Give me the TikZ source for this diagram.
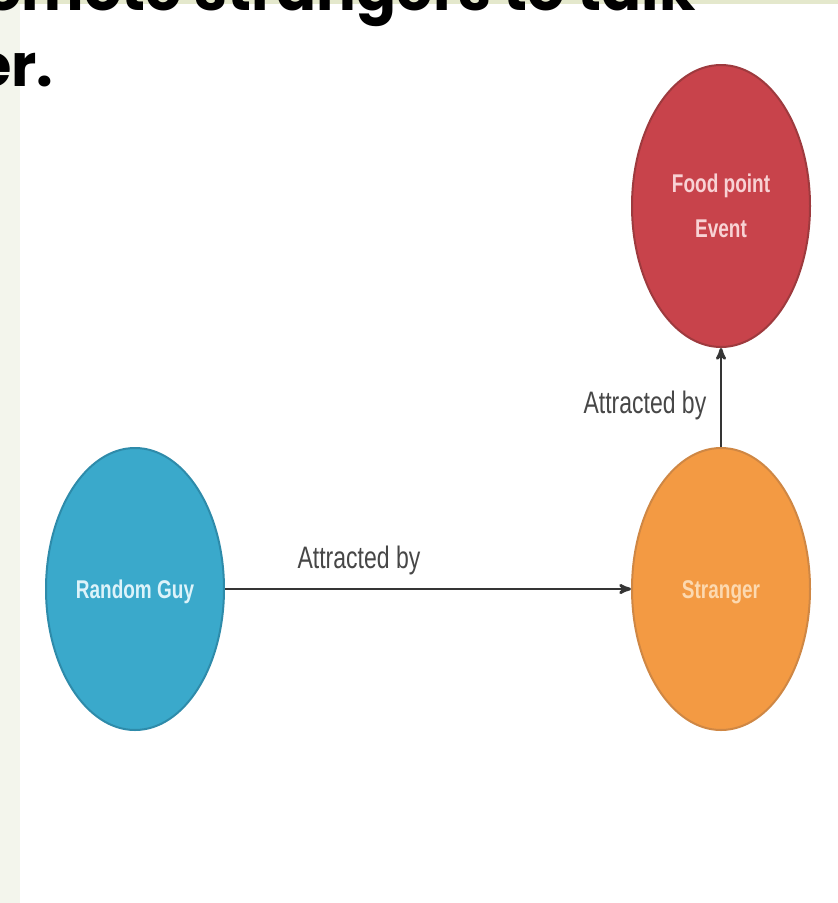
\documentclass[tikz,border=0pt]{standalone}
\usepackage{graphicx}
\usepackage{fontspec}
\setmainfont{Liberation Sans}
\newfontfamily\titlefont{Poppins}
\usepackage{tikz}
\usetikzlibrary{arrows,shapes.geometric}

\definecolor{eventred}{HTML}{C8434B}
\definecolor{eventline}{HTML}{9E3A3E}
\definecolor{eventtext}{HTML}{F8D2D4}
\definecolor{guyblue}{HTML}{3AA9CB}
\definecolor{guyline}{HTML}{2E8BAA}
\definecolor{guytext}{HTML}{DDF3FA}
\definecolor{strangerorange}{HTML}{F39A43}
\definecolor{strangerline}{HTML}{CF8744}
\definecolor{strangertext}{HTML}{FCD9B0}
\definecolor{slidestrip}{HTML}{F3F5EC}
\definecolor{slideband}{HTML}{E4E8CC}
\definecolor{linkgray}{HTML}{353535}
\definecolor{labelgray}{HTML}{474747}

% text in the picture is stretched upright
\newcommand{\tall}[1]{\scalebox{1}[1.35]{\begin{tabular}{@{}c@{}}#1\end{tabular}}}
\renewcommand{\arraystretch}{1.45}

\begin{document}
\begin{tikzpicture}[>=stealth', auto, node distance=586pt,
	blob/.style={ellipse, draw, line width=2pt, minimum width=178pt, minimum height=282pt, inner sep=0pt, font=\bfseries\fontsize{19}{23}\selectfont},
	link/.style={->, draw=linkgray, line width=2.8pt},
	linklabel/.style={text=labelgray, font=\fontsize{23}{27}\selectfont},
	titleline/.style={anchor=base west, inner sep=0pt, font=\titlefont\bfseries\fontsize{59}{70}\selectfont}]
	\useasboundingbox (0,0) rectangle (838pt,-903pt);
	\clip (0,0) rectangle (838pt,-903pt);

	% Slide background
	\fill [white] 		(0,0) rectangle (838pt,-903pt);
	\fill [slidestrip] 	(0,0) rectangle (20pt,-903pt);
	\fill [slideband] 	(0,0) rectangle (838pt,-4pt);

	% Title lines
	\node [titleline] (title1) at (-16pt,-10pt) {omote strangers to talk};
	\node [titleline] (title2) at (-25pt,-86pt) {er.};

	% Nodes {guy, stranger, event}
	\node [blob, fill=guyblue, draw=guyline, text=guytext] 					(guy) 		at (135pt,-589pt) 	{\tall{Random Guy}};
	\node [blob, fill=strangerorange, draw=strangerline, text=strangertext] 	(stranger) 	[right of=guy] 		{\tall{Stranger}};
	\node [blob, fill=eventred, draw=eventline, text=eventtext, node distance=383pt] 	(event) 	[above of=stranger] 	{\tall{Food point\\Event}};

	% Paths
	\path [link] 	(guy) 		edge 	node [linklabel, pos=0.33] 				{\tall{Attracted by}} 	(stranger);
	\path [link] 	(stranger) 	edge 	node [linklabel, pos=0.45, xshift=-10pt] 	{\tall{Attracted by}} 	(event);

\end{tikzpicture}
\end{document}
